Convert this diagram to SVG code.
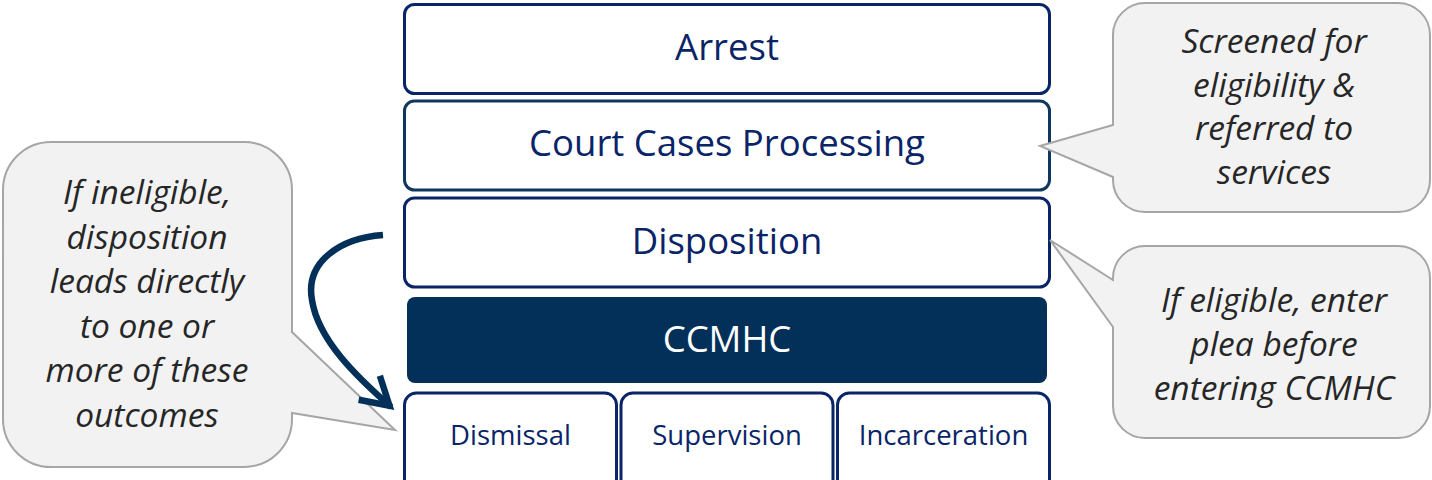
<svg xmlns="http://www.w3.org/2000/svg" width="1432" height="480" viewBox="0 0 1432 480">
<style>
.box{fill:#ffffff;stroke:#0a2468;stroke-width:3}
.lbl{font-family:"Open Sans","Liberation Sans",sans-serif;fill:#0a2468;text-anchor:middle}
.big{font-size:36.5px}
.small{font-size:27.5px}
.call{fill:#f2f2f2;stroke:#a6a6a6;stroke-width:2;stroke-linejoin:miter}
.ct{font-family:"Open Sans","Liberation Sans",sans-serif;font-style:italic;font-size:33.5px;fill:#262626;text-anchor:middle}
.arrow{fill:none;stroke:#023059;stroke-width:6.5}
</style>
<defs>
<marker id="chev" markerUnits="userSpaceOnUse" viewBox="-40 -25 50 50" markerWidth="50" markerHeight="50" refX="0" refY="0" orient="auto">
<path d="M -29 -16 L -2 0 L -29 16" fill="none" stroke="#023059" stroke-width="6.5" stroke-linecap="butt" stroke-linejoin="miter"/>
</marker>
</defs>
<g id="arrest">
<rect class="box" x="404.5" y="4.5" width="645" height="89" rx="10"/>
<text class="lbl big" x="727" y="60">Arrest</text>
</g>
<g id="court">
<rect class="box" x="404.5" y="101" width="645" height="89" rx="10" style="stroke:#10385e"/>
<text class="lbl big" x="727" y="156">Court Cases Processing</text>
</g>
<g id="disposition">
<rect class="box" x="404.5" y="198" width="645" height="89" rx="10"/>
<text class="lbl big" x="727" y="254">Disposition</text>
</g>
<g id="ccmhc">
<rect x="407" y="297" width="640" height="86" rx="8" fill="#023059"/>
<text class="lbl big" x="727" y="352" style="fill:#ffffff">CCMHC</text>
</g>
<g id="dismissal">
<rect class="box" x="404.5" y="393" width="212" height="100" rx="12"/>
<text class="lbl small" x="510.5" y="445">Dismissal</text>
</g>
<g id="supervision">
<rect class="box" x="621" y="393" width="212" height="100" rx="12"/>
<text class="lbl small" x="727" y="445">Supervision</text>
</g>
<g id="incarceration">
<rect class="box" x="837.5" y="393" width="212" height="100" rx="12"/>
<text class="lbl small" x="943.5" y="445">Incarceration</text>
</g>
<g id="callout-ineligible">
<path class="call" d="M 51,142 H 244 A 48 48 0 0 1 292,190 V 332 L 395,430 L 292,413 V 419 A 48 48 0 0 1 244,467 H 51 A 48 48 0 0 1 3,419 V 190 A 48 48 0 0 1 51,142 Z"/>
<text class="ct" x="147" y="204">If ineligible,</text>
<text class="ct" x="147" y="249">disposition</text>
<text class="ct" x="147" y="293">leads directly</text>
<text class="ct" x="147" y="338">to one or</text>
<text class="ct" x="147" y="382">more of these</text>
<text class="ct" x="147" y="427">outcomes</text>
</g>
<g id="callout-screened">
<path class="call" d="M 1145,3 H 1398 A 32 32 0 0 1 1430,35 V 180 A 32 32 0 0 1 1398,212 H 1145 A 32 32 0 0 1 1113,180 V 177 L 1040,146 L 1113,125 V 35 A 32 32 0 0 1 1145,3 Z"/>
<text class="ct" x="1274" y="53">Screened for</text>
<text class="ct" x="1274" y="97">eligibility &amp;</text>
<text class="ct" x="1274" y="140">referred to</text>
<text class="ct" x="1274" y="184">services</text>
</g>
<g id="callout-eligible">
<path class="call" d="M 1145,246 H 1398 A 32 32 0 0 1 1430,278 V 406 A 32 32 0 0 1 1398,438 H 1145 A 32 32 0 0 1 1113,406 V 327 L 1050,240 L 1113,280 V 278 A 32 32 0 0 1 1145,246 Z"/>
<text class="ct" x="1274" y="312">If eligible, enter</text>
<text class="ct" x="1274" y="356">plea before</text>
<text class="ct" x="1274" y="400">entering CCMHC</text>
</g>
<g id="connectors">
<path class="arrow" d="M 383,235 C 340,238 305,262 312,300 C 318,340 357,377 391,407" marker-end="url(#chev)"/>
</g>
</svg>
